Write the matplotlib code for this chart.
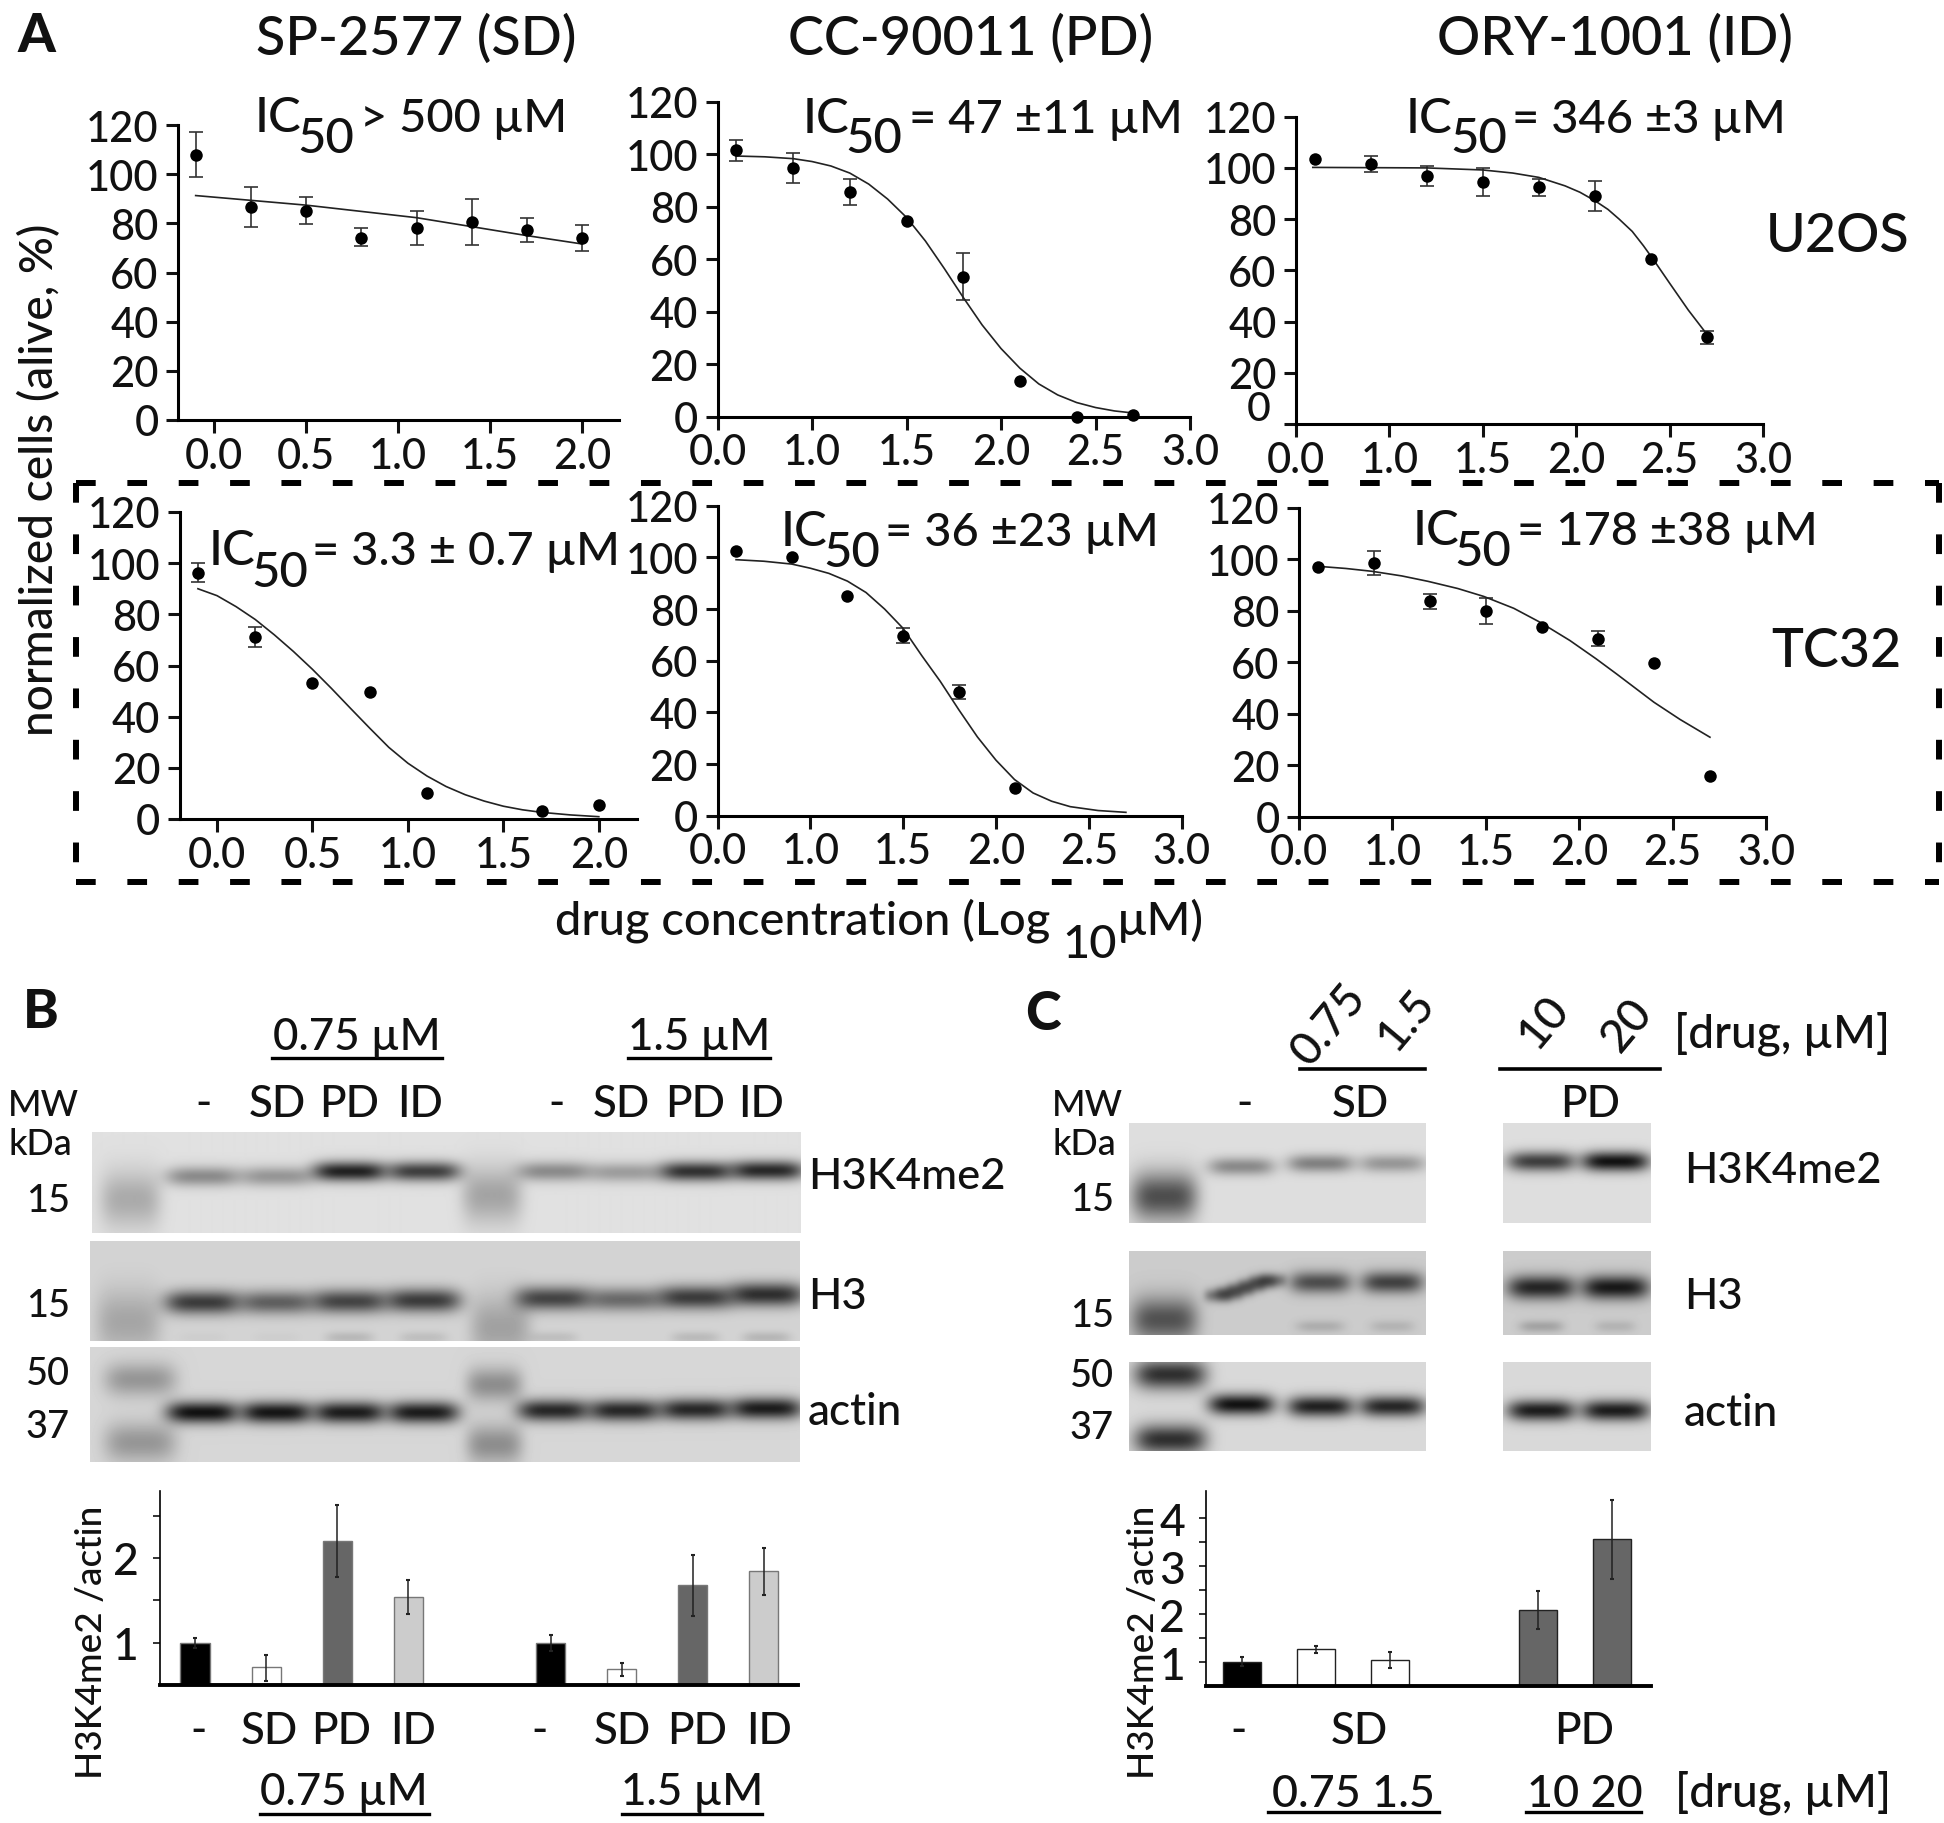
#!/usr/bin/env python3
# -*- coding: utf-8 -*-
import numpy as np
import matplotlib
matplotlib.use('Agg')
import matplotlib.pyplot as plt

plt.rcParams['font.family'] = ['Lato', 'DejaVu Sans']
plt.rcParams['font.weight'] = 500

W, H = 1944, 1824
nan = float('nan')
MU = '\u00b5'

# panel A, top row (U2OS)
a1_x = [-0.1, 0.2, 0.5, 0.8, 1.1, 1.4, 1.7, 2.0]
a1_y = [107.8, 86.5, 85.2, 74.2, 78.0, 80.7, 77.4, 73.9]
a1_lo = [98.7, 78.6, 79.7, 70.6, 71.2, 71.3, 72.5, 68.6]
a1_hi = [117.0, 94.6, 90.8, 78.0, 85.0, 89.9, 82.3, 79.2]
a1_cx = [-0.1, 0.5, 1.1, 1.7, 2.0]
a1_cy = [91.3, 87.4, 82.3, 75.0, 71.6]

a2_x = [0.6, 0.9, 1.2, 1.5, 1.8, 2.1, 2.4, 2.7]
a2_y = [101.6, 94.8, 85.5, 74.7, 53.4, 13.5, 0.0, 0.6]
a2_lo = [97.5, 89.3, 80.8, nan, 44.5, nan, nan, nan]
a2_hi = [105.6, 100.4, 90.5, nan, 62.4, nan, nan, nan]
a2_cx = [0.6, 0.75, 0.9, 1.0, 1.1, 1.2, 1.3, 1.4, 1.5, 1.6, 1.7, 1.8, 1.9, 2.0, 2.1, 2.2, 2.3, 2.4, 2.5, 2.6, 2.7]
a2_cy = [99.4, 99.1, 98.4, 97.3, 95.6, 92.9, 88.7, 83.0, 76.0, 67.0, 56.5, 45.5, 35.0, 26.0, 18.5, 12.5, 8.3, 5.4, 3.5, 2.2, 1.4]

a3_x = [0.6, 0.9, 1.2, 1.5, 1.8, 2.1, 2.4, 2.7]
a3_y = [103.5, 101.5, 96.7, 94.4, 92.4, 89.0, 64.3, 34.0]
a3_lo = [nan, 98.3, 93.1, 89.2, 89.2, 83.0, nan, 31.2]
a3_hi = [nan, 104.8, 100.9, 99.8, 95.7, 95.0, nan, 36.4]
a3_cx = [0.59, 0.9, 1.2, 1.5, 1.66, 1.8, 1.94, 2.02, 2.1, 2.17, 2.23, 2.3, 2.36, 2.42, 2.5, 2.6, 2.7]
a3_cy = [100.2, 100.1, 100.0, 99.2, 98.0, 96.3, 93.0, 90.5, 87.2, 83.8, 80.0, 75.2, 69.6, 63.5, 55.0, 44.5, 35.0]

# panel A, bottom row (TC32)
a4_x = [-0.1, 0.2, 0.5, 0.8, 1.1, 1.7, 2.0]
a4_y = [96.3, 71.1, 53.2, 49.6, 10.0, 3.1, 5.6]
a4_lo = [92.6, 67.2, nan, nan, nan, nan, nan]
a4_hi = [100.0, 75.0, nan, nan, nan, nan, nan]
a4_cx = [-0.1, 0.0, 0.1, 0.2, 0.3, 0.4, 0.5, 0.6, 0.7, 0.8, 0.9, 1.0, 1.1, 1.2, 1.3, 1.4, 1.5, 1.6, 1.7, 1.85, 2.0]
a4_cy = [90.0, 87.3, 83.0, 78.0, 72.0, 65.5, 58.5, 51.0, 43.2, 35.5, 28.0, 21.8, 16.8, 12.7, 9.5, 7.0, 5.0, 3.6, 2.6, 1.6, 0.9]

a5_x = [0.6, 0.9, 1.2, 1.5, 1.8, 2.1]
a5_y = [102.6, 100.3, 84.9, 69.7, 47.7, 10.6]
a5_lo = [nan, nan, nan, 66.8, 45.0, nan]
a5_hi = [nan, nan, nan, 72.6, 50.6, nan]
a5_cx = [0.6, 0.75, 0.9, 1.0, 1.1, 1.2, 1.3, 1.4, 1.5, 1.6, 1.7, 1.8, 1.9, 2.0, 2.1, 2.2, 2.3, 2.4, 2.55, 2.7]
a5_cy = [99.1, 98.5, 97.4, 95.8, 93.8, 90.8, 86.4, 80.0, 72.5, 62.0, 52.0, 41.0, 30.5, 21.5, 14.0, 8.8, 5.6, 3.5, 2.0, 1.3]

a6_x = [0.6, 0.9, 1.2, 1.5, 1.8, 2.1, 2.4, 2.7]
a6_y = [96.9, 98.6, 83.7, 79.9, 73.9, 69.1, 59.7, 15.7]
a6_lo = [nan, 94.1, 80.8, 75.0, nan, 66.2, nan, nan]
a6_hi = [nan, 103.1, 86.7, 85.0, nan, 72.1, nan, nan]
a6_cx = [0.59, 0.75, 0.89, 1.05, 1.19, 1.35, 1.49, 1.65, 1.79, 1.95, 2.09, 2.2, 2.3, 2.4, 2.54, 2.7]
a6_cy = [97.4, 96.5, 95.4, 93.6, 91.5, 88.7, 85.6, 81.0, 75.6, 68.5, 61.4, 55.5, 50.0, 44.5, 37.8, 30.9]

low_ticks = [0.0, 0.5, 1.0, 1.5, 2.0]
low_labels = ['0.0', '0.5', '1.0', '1.5', '2.0']
high_ticks = [0.5, 1.0, 1.5, 2.0, 2.5, 3.0]
high_labels = ['0.0', '1.0', '1.5', '2.0', '2.5', '3.0']
y_ticks = [0, 20, 40, 60, 80, 100, 120]

# bars B
b_pos = [0, 1, 2, 3, 5, 6, 7, 8]
b_val = [1.0, 0.708, 2.2, 1.54, 1.0, 0.688, 1.68, 1.84]
b_lo = [0.94, 0.55, 1.78, 1.335, 0.9, 0.61, 1.32, 1.56]
b_hi = [1.06, 0.857, 2.62, 1.74, 1.096, 0.76, 2.04, 2.12]
b_col = ['black', 'white', '#666666', '#cccccc', 'black', 'white', '#666666', '#cccccc']

# bars C
c_pos = [0, 1, 2, 4, 5]
c_val = [1.01, 1.27, 1.05, 2.09, 3.56]
c_lo = [0.91, 1.19, 0.87, 1.69, 2.73]
c_hi = [1.11, 1.34, 1.22, 2.49, 4.39]
c_col = ['black', 'white', 'white', '#666666', '#666666']

# blots: x, y, half width, half height, strength (pixels on the page)
b_lanes = [202, 276, 349, 423, 553, 624, 695, 766]
b1_y = [1177, 1177, 1172, 1172, 1172, 1173, 1172, 1171]
b1_s = [0.38, 0.33, 0.85, 0.72, 0.38, 0.3, 0.78, 0.82]
b2_y = [1303, 1303, 1302, 1301, 1299, 1300, 1298, 1295]
b2_s = [0.72, 0.55, 0.68, 0.72, 0.68, 0.5, 0.72, 0.78]
b2f_s = [0.03, 0.03, 0.13, 0.1, 0.1, 0.0, 0.12, 0.14]
b3_y = [1413, 1413, 1413, 1413, 1411, 1411, 1410, 1409]
b3_s = [0.92, 0.9, 0.87, 0.87, 0.82, 0.82, 0.82, 0.87]
c_left = [1241, 1320, 1392]
c_right = [1541, 1615]
c1_y = [1167, 1164, 1164]
c1_s = [0.38, 0.42, 0.32]
c1r_y = [1162, 1162]
c1r_s = [0.72, 0.92]
c2_x = [1320, 1392]
c2_y = [1283, 1283]
c2_s = [0.62, 0.68]
c2_tilt_x = [1218, 1229, 1240, 1251, 1262, 1272]
c2_tilt_y = [1296, 1294, 1290, 1286, 1282, 1281]
c2r_y = [1288, 1288]
c2r_s = [0.82, 0.88]
c3_y = [1405, 1407, 1407]
c3_s = [0.92, 0.85, 0.82]
c3r_y = [1411, 1411]
c3r_s = [0.87, 0.87]


def px_axes(left, right, top, bottom):
    return fig.add_axes([left / W, 1 - bottom / H, (right - left) / W, (bottom - top) / H])


def txt(x, y, s, size=40, ha='left', **kw):
    # size in page pixels, y is the baseline
    return over.text(x, y, s, fontsize=size * 0.72, ha=ha, va='baseline', color='#111111', **kw)


def ic50(x1, x2, x3, y1, y2, rest):
    txt(x1, y1, 'IC', 49)
    txt(x2, y2, '50', 49)
    txt(x3, y1, rest, 47)


def blot(left, right, top, bottom, bg, bands):
    xx, yy = np.meshgrid(np.arange(left, right), np.arange(top, bottom))
    img = np.ones(xx.shape)
    for x, y, sx, sy, s in bands:
        dx = np.abs(xx - x) / sx
        dy = np.abs(yy - y) / sy
        img *= 1 - s * np.exp(-dx ** 4 - dy ** 2)
    ax = px_axes(left, right, top, bottom)
    ax.imshow(img * bg, cmap='gray', vmin=0, vmax=1, aspect='auto', interpolation='bilinear')
    ax.axis('off')


def dose_panel(rect, xlim, ticks, labels, x, y, lo, hi, cx, cy):
    ax = px_axes(*rect)
    y = np.array(y)
    lo = np.array(lo)
    hi = np.array(hi)
    ax.errorbar(x, y, yerr=[y - lo, hi - y], fmt='none', ecolor='#333333', elinewidth=1.2,
                capsize=4.7, capthick=1.2, clip_on=False, zorder=2)
    ax.plot(cx, cy, color='#222222', lw=1.2, clip_on=False, zorder=3)
    ax.plot(x, y, 'o', color='black', ms=9, mew=0, clip_on=False, zorder=4)
    ax.set_xlim(*xlim)
    ax.set_ylim(0, 120)
    ax.set_xticks(ticks)
    ax.set_xticklabels(labels)
    ax.set_yticks(y_ticks)
    ax.spines['top'].set_visible(False)
    ax.spines['right'].set_visible(False)
    ax.spines['left'].set_linewidth(2.2)
    ax.spines['bottom'].set_linewidth(2.2)
    ax.tick_params(axis='both', width=2.2, length=9, labelsize=30, color='#111111', labelcolor='#111111')
    ax.tick_params(axis='y', pad=5)
    ax.tick_params(axis='x', pad=3)
    ax.patch.set_alpha(0)
    return ax


def bar_panel(rect, xlim, ylim, pos, val, lo, hi, col, width, ticks, labels, edge):
    ax = px_axes(*rect)
    val = np.array(val)
    ax.bar(pos, val - 0.5, bottom=0.5, width=width, color=col, edgecolor=edge, linewidth=1.0, zorder=2)
    ax.errorbar(pos, val, yerr=[val - np.array(lo), np.array(hi) - val], fmt='none', ecolor='#222222',
                elinewidth=1.1, capsize=1.5, capthick=1.5, zorder=3)
    ax.set_xlim(*xlim)
    ax.set_ylim(*ylim)
    ax.set_xticks([])
    ax.set_yticks(ticks)
    ax.set_yticklabels(labels)
    ax.spines['top'].set_visible(False)
    ax.spines['right'].set_visible(False)
    ax.spines['left'].set_linewidth(1.2)
    ax.spines['bottom'].set_linewidth(2.8)
    ax.tick_params(axis='y', width=1.2, length=5, labelsize=32, pad=10, color='#111111', labelcolor='#111111')
    ax.patch.set_alpha(0)
    return ax


fig = plt.figure(figsize=(W / 100, H / 100), dpi=100, facecolor='white')

# blots go first
blot(92, 800, 1133, 1234, 0.88,
     [(x, y, 37, 10, s) for x, y, s in zip(b_lanes, b1_y, b1_s)]
     + [(130, 1200, 30, 28, 0.24), (491, 1196, 30, 28, 0.27)])
blot(90, 800, 1242, 1342, 0.83,
     [(x, y, 38, 12, s) for x, y, s in zip(b_lanes, b2_y, b2_s)]
     + [(x, 1338, 24, 6, s) for x, s in zip(b_lanes, b2f_s)]
     + [(128, 1322, 32, 32, 0.22), (500, 1328, 30, 32, 0.24)])
blot(90, 800, 1348, 1463, 0.84,
     [(x, y, 36, 11, s) for x, y, s in zip(b_lanes, b3_y, b3_s)]
     + [(140, 1380, 36, 17, 0.3), (140, 1443, 36, 20, 0.3), (494, 1385, 28, 17, 0.34), (494, 1445, 28, 20, 0.34)])

blot(1129, 1426, 1124, 1224, 0.87,
     [(x, y, 33, 9, s) for x, y, s in zip(c_left, c1_y, c1_s)] + [(1164, 1197, 33, 24, 0.65)])
blot(1503, 1651, 1124, 1224, 0.87,
     [(x, y, 34, 10, s) for x, y, s in zip(c_right, c1r_y, c1r_s)])
blot(1129, 1426, 1252, 1336, 0.8,
     [(x, y, 31, 11, s) for x, y, s in zip(c2_x, c2_y, c2_s)]
     + [(x, y, 14, 7, 0.42) for x, y in zip(c2_tilt_x, c2_tilt_y)]
     + [(1320, 1327, 24, 6, 0.15), (1392, 1327, 22, 6, 0.12), (1164, 1320, 33, 22, 0.6)])
blot(1503, 1651, 1252, 1336, 0.8,
     [(x, y, 34, 12, s) for x, y, s in zip(c_right, c2r_y, c2r_s)]
     + [(1541, 1327, 22, 6, 0.2), (1615, 1327, 20, 6, 0.12)])
blot(1129, 1426, 1363, 1452, 0.85,
     [(x, y, 33, 10.5, s) for x, y, s in zip(c_left, c3_y, c3_s)]
     + [(1170, 1375, 36, 15, 0.78), (1170, 1440, 36, 15, 0.78)])
blot(1503, 1651, 1363, 1452, 0.85,
     [(x, y, 34, 10.5, s) for x, y, s in zip(c_right, c3r_y, c3r_s)])

over = fig.add_axes([0, 0, 1, 1], zorder=5)
over.set_xlim(0, W)
over.set_ylim(H, 0)
over.axis('off')

# dose response panels
dose_panel((178, 619, 126, 421), (-0.196, 2.2), low_ticks, low_labels, a1_x, a1_y, a1_lo, a1_hi, a1_cx, a1_cy)
dose_panel((717.5, 1190, 103, 417.7), (0.5, 3.0), high_ticks, high_labels, a2_x, a2_y, a2_lo, a2_hi, a2_cx, a2_cy)
ax3 = dose_panel((1296, 1763, 117.7, 425), (0.5, 3.0), high_ticks, high_labels, a3_x, a3_y, a3_lo, a3_hi, a3_cx, a3_cy)
ax3.set_yticks(y_ticks)
ax3.set_yticklabels(['', '20', '40', '60', '80', '100', '120'])
txt(1247, 421, '0', 41)
dose_panel((179.6, 637, 513, 820), (-0.196, 2.2), low_ticks, low_labels, a4_x, a4_y, a4_lo, a4_hi, a4_cx, a4_cy)
dose_panel((717.5, 1181.6, 506.7, 816.7), (0.5, 3.0), high_ticks, high_labels, a5_x, a5_y, a5_lo, a5_hi, a5_cx, a5_cy)
dose_panel((1299, 1766, 509, 817.7), (0.5, 3.0), high_ticks, high_labels, a6_x, a6_y, a6_lo, a6_hi, a6_cx, a6_cy)

# bar panels
bar_panel((159.5, 798, 1492, 1686), (-0.5, 8.48), (0.5, 2.79), b_pos, b_val, b_lo, b_hi, b_col, 0.41,
          [1, 1.5, 2, 2.5], ['1', '', '2', ''], '#777777')
bar_panel((1206, 1651, 1492, 1687), (-0.49, 5.53), (0.5, 4.57), c_pos, c_val, c_lo, c_hi, c_col, 0.51,
          [1, 1.5, 2, 2.5, 3, 3.5, 4], ['1', '', '2', '', '3', '', '4'], '#222222')

# dashed box round TC32
dash = dict(color='black', lw=4.3, linestyle=(0, (3.3, 5.3)), solid_capstyle='butt')
over.plot([76, 1939], [484, 484], **dash)
over.plot([76, 1939], [883, 883], **dash)
over.plot([76, 76], [484, 883], **dash)
over.plot([1939, 1939], [484, 883], **dash)

# panel letters
txt(17, 52, 'A', 54, fontweight='black')
txt(23, 1028, 'B', 54, fontweight='black')
txt(1025, 1030, 'C', 54, fontweight='black')

# panel A text
txt(416, 55, 'SP-2577 (SD)', 54, ha='center')
txt(971, 55, 'CC-90011 (PD)', 54, ha='center')
txt(1615, 55, 'ORY-1001 (ID)', 54, ha='center')
ic50(255, 297, 360, 132, 153, '> 500 ' + MU + 'M')
ic50(803, 845, 909, 133, 153, '= 47 \u00b111 ' + MU + 'M')
ic50(1406, 1450, 1512, 133, 153, '= 346 \u00b13 ' + MU + 'M')
ic50(209, 251, 312, 565, 587, '= 3.3 \u00b1 0.7 ' + MU + 'M')
ic50(781, 823, 885, 546, 567, '= 36 \u00b123 ' + MU + 'M')
ic50(1413, 1454, 1517, 545, 566, '= 178 \u00b138 ' + MU + 'M')
txt(1766, 252, 'U2OS', 54)
txt(1771, 667, 'TC32', 54)
over.text(53, 480, 'normalized cells (alive, %)', fontsize=46 * 0.72, rotation=90, ha='center', va='baseline',
          rotation_mode='anchor', color='#111111')
txt(555, 935, 'drug concentration (Log', 47)
txt(1062, 958, '10', 47)
txt(1117, 935, MU + 'M)', 47)

# panel B text
txt(357, 1050, '0.75 ' + MU + 'M', 44, ha='center')
txt(699, 1050, '1.5 ' + MU + 'M', 44, ha='center')
over.plot([272, 442], [1059, 1059], color='black', lw=2.4)
over.plot([628, 770], [1059, 1059], color='black', lw=2.4)
for x, s in zip([203, 277, 349, 420, 556, 621, 695, 761], ['-', 'SD', 'PD', 'ID', '-', 'SD', 'PD', 'ID']):
    txt(x, 1117, s, 44, ha='center')
txt(8, 1116, 'MW', 36)
txt(8, 1155, 'kDa', 36)
for y, s in zip([1212, 1317, 1385, 1438], ['15', '15', '50', '37']):
    txt(70, y, s, 38, ha='right')
txt(808, 1189, 'H3K4me2', 43.5)
txt(808, 1309, 'H3', 43.5)
txt(808, 1425, 'actin', 44)
for x, s in zip([198, 269, 341, 413, 539, 622, 697, 769], ['-', 'SD', 'PD', 'ID', '-', 'SD', 'PD', 'ID']):
    txt(x, 1744, s, 44, ha='center')
txt(344, 1805, '0.75 ' + MU + 'M', 44, ha='center')
txt(692, 1805, '1.5 ' + MU + 'M', 44, ha='center')
over.plot([260, 429], [1815, 1815], color='black', lw=2.4)
over.plot([622, 762], [1815, 1815], color='black', lw=2.4)
over.text(102, 1642, 'H3K4me2 /actin', fontsize=37 * 0.72, rotation=90, ha='center', va='baseline',
          rotation_mode='anchor', color='#111111')

# panel C text
for x, y, s in zip([1329, 1406, 1544, 1627], [1025, 1020, 1022, 1025], ['0.75', '1.5', '10', '20']):
    over.text(x, y, s, fontsize=46 * 0.72, rotation=50, ha='center', va='center', color='#111111')
over.plot([1300, 1425], [1070, 1070], color='black', lw=2.6)
over.plot([1500, 1660], [1070, 1070], color='black', lw=2.6)
txt(1674, 1048, '[drug, ' + MU + 'M]', 46)
txt(1052, 1116, 'MW', 36)
txt(1052, 1155, 'kDa', 36)
txt(1244, 1117, '-', 44, ha='center')
txt(1360, 1117, 'SD', 44, ha='center')
txt(1590, 1117, 'PD', 44, ha='center')
for y, s in zip([1211, 1327, 1387, 1439], ['15', '15', '50', '37']):
    txt(1114, y, s, 38, ha='right')
txt(1684, 1183, 'H3K4me2', 43.5)
txt(1684, 1309, 'H3', 43.5)
txt(1684, 1426, 'actin', 44)
txt(1238, 1744, '-', 44, ha='center')
txt(1359, 1744, 'SD', 44, ha='center')
txt(1584, 1744, 'PD', 44, ha='center')
txt(1353, 1807, '0.75 1.5', 45, ha='center')
txt(1585, 1807, '10 20', 45, ha='center')
over.plot([1268, 1439], [1813, 1813], color='black', lw=2.4)
over.plot([1526, 1641], [1813, 1813], color='black', lw=2.4)
txt(1675, 1807, '[drug, ' + MU + 'M]', 46)
over.text(1154, 1642, 'H3K4me2 /actin', fontsize=37 * 0.72, rotation=90, ha='center', va='baseline',
          rotation_mode='anchor', color='#111111')

fig.savefig('out.png', dpi=100, facecolor='white')
